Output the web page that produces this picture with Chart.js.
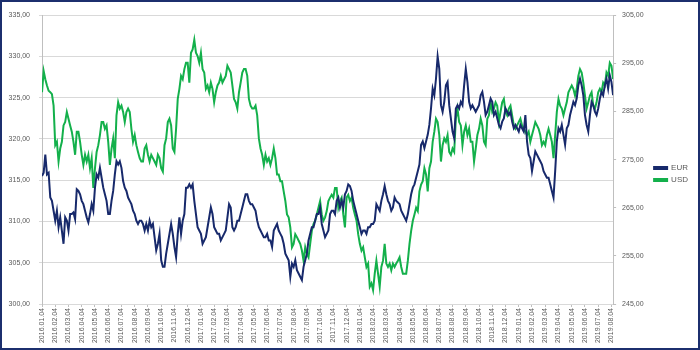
<!DOCTYPE html>
<html>
<head>
<meta charset="utf-8">
<script src="https://cdn.jsdelivr.net/npm/chart.js@4/dist/chart.umd.min.js"></script>
<style>
  body { margin: 0; background: #fff; }
  #frame { width: 700px; height: 350px; box-sizing: border-box; border: 2px solid #1c2f6e; background: #fff; }
  canvas { display: block; }
</style>
</head>
<body>
<div id="frame"><canvas id="chart" width="696" height="346"></canvas></div>
<script>
// monthly tick labels
const monthLabels = [
  "2016.01.04", "2016.02.04", "2016.03.04", "2016.04.04", "2016.05.04", "2016.06.04",
  "2016.07.04", "2016.08.04", "2016.09.04", "2016.10.04", "2016.11.04", "2016.12.04",
  "2017.01.04", "2017.02.04", "2017.03.04", "2017.04.04", "2017.05.04", "2017.06.04",
  "2017.07.04", "2017.08.04", "2017.09.04", "2017.10.04", "2017.11.04", "2017.12.04",
  "2018.01.04", "2018.02.04", "2018.03.04", "2018.04.04", "2018.05.04", "2018.06.04",
  "2018.07.04", "2018.08.04", "2018.09.04", "2018.10.04", "2018.11.04", "2018.12.04",
  "2019.01.04", "2019.02.04", "2019.03.04", "2019.04.04", "2019.05.04", "2019.06.04",
  "2019.07.04", "2019.08.04"
];

const samplesPerMonth = 8;

// EUR (left axis)
const eurValues = [
  315.5, 315.9, 318.1, 315.7, 315.9, 312.9, 312.5, 311.3, 310.1, 311.3,
  309.3, 310.5, 308.9, 307.3, 310.5, 310.1, 308.9, 310.9, 310.9, 311.1,
  310.3, 313.9, 313.7, 313.3, 312.5, 312.1, 311.3, 310.5, 309.9, 310.9,
  312.1, 311.3, 314.1, 315.7, 315.3, 316.5, 315.3, 314.1, 313.3, 312.5,
  310.9, 310.9, 312.5, 313.7, 315.7, 317.3, 316.9, 317.3, 316.5, 314.9,
  314.1, 313.7, 312.9, 312.5, 312.1, 311.3, 310.9, 310.1, 309.7, 310.1,
  310.1, 309.7, 308.9, 309.7, 308.9, 310.1, 309.3, 309.7, 308.1, 306.5,
  307.3, 308.5, 305.3, 304.5, 304.5, 306.1, 307.3, 308.5, 309.7, 308.5,
  306.9, 305.7, 308.5, 310.5, 308.5, 310.1, 310.9, 314.1,
  314.1, 314.5, 314.1, 314.5, 312.5, 310.9, 309.3, 308.9, 308.5, 307.3,
  307.7, 308.1, 309.3, 310.5, 311.7, 310.9, 309.3, 308.9, 308.5, 308.5,
  307.7, 308.1, 308.5, 308.9, 310.5, 312.1, 311.7, 309.3, 308.9, 309.3,
  310.1, 310.1, 310.9, 311.7, 312.5, 313.3, 313.3, 312.5, 312.1, 312.1,
  311.7, 311.3, 310.1, 309.3, 308.9, 308.5, 308.1, 308.1, 308.5, 307.7,
  307.7, 306.9, 308.9, 309.3, 309.7, 308.9, 308.5, 308.1, 307.3, 306.1,
  305.7, 305.3, 303.3, 304.9, 304.5, 305.3, 304.1, 303.7, 303.3, 302.9,
  304.5, 305.3, 306.1, 307.7, 308.5, 309.3, 309.3, 310.1, 310.9, 310.9,
  311.7, 309.7, 308.9, 308.1, 308.5, 308.9, 310.9, 311.3,
  311.3, 310.9, 312.5, 312.9, 311.7, 312.5, 311.7, 313.3, 313.7, 314.5,
  314.3, 313.7, 312.5, 311.7, 310.9, 310.1, 309.3, 308.5, 308.9, 308.9,
  308.5, 309.3, 309.3, 309.7, 309.7, 310.1, 312.1, 311.7, 311.3, 312.5,
  313.3, 314.3, 313.3, 312.5, 312.1, 311.3, 311.7, 312.9, 312.5, 312.3,
  312.1, 311.3, 310.9, 310.5, 310.1, 310.9, 312.1, 313.3, 314.1, 314.5,
  315.3, 316.1, 316.9, 319.3, 319.7, 318.9, 319.7, 320.5, 321.7, 323.7,
  326.1, 325.3, 327.3, 330.0, 328.5, 324.1, 323.3, 324.5, 326.5, 326.9,
  324.1, 322.5, 320.9, 320.1, 323.7, 324.1, 323.7, 324.5, 324.1, 326.5,
  328.5, 326.9, 324.5, 323.7, 324.1, 323.7, 323.3, 323.7,
  324.1, 325.3, 325.7, 324.5, 322.9, 323.3, 324.1, 324.9, 324.5, 322.9,
  323.3, 322.5, 321.7, 321.3, 322.1, 322.5, 323.7, 323.3, 322.9, 323.3,
  322.1, 321.3, 321.7, 321.3, 320.9, 321.7, 321.3, 320.9, 322.9, 319.7,
  318.1, 317.7, 316.1, 317.3, 318.5, 318.1, 317.7, 317.3, 316.9, 316.1,
  315.7, 315.3, 315.3, 314.5, 313.7, 312.9, 316.1, 319.7, 321.3, 320.9,
  321.7, 320.5, 319.3, 321.3, 321.7, 322.9, 323.7, 324.5, 324.1, 324.9,
  326.5, 327.3, 326.5, 325.3, 322.9, 321.7, 320.9, 322.9, 324.5, 324.1,
  323.3, 322.9, 323.7, 324.9, 325.7, 325.3, 326.5, 327.3, 326.1, 327.7,
  326.9, 325.3
];

// USD (right axis)
const usdValues = [
  289.0, 293.4, 291.7, 290.4, 289.3, 289.0, 288.6, 286.2, 278.0, 278.7,
  274.6, 277.3, 278.7, 282.1, 282.8, 284.9, 283.5, 282.1, 280.8, 278.7,
  276.0, 280.8, 280.8, 278.7, 276.0, 273.9, 276.0, 274.6, 276.0, 273.2,
  275.3, 269.1, 273.2, 276.6, 278.0, 280.1, 282.8, 282.8, 281.4, 282.1,
  278.7, 273.9, 277.3, 279.4, 275.3, 284.2, 286.9, 285.6, 286.2, 284.9,
  282.8, 284.9, 285.6, 284.9, 281.4, 278.7, 280.1, 278.0, 276.6, 275.3,
  274.6, 274.6, 277.3, 278.0, 276.0, 274.6, 276.0, 275.3, 274.6, 273.9,
  276.0, 275.3, 273.2, 272.5, 278.0, 279.4, 282.8, 283.5, 282.1, 277.3,
  276.6, 281.4, 287.6, 289.7, 292.4, 291.7, 293.8, 295.1,
  295.1, 291.0, 297.2, 297.9, 299.9, 297.2, 296.5, 295.1, 297.2, 293.8,
  293.1, 289.7, 290.4, 289.0, 291.0, 289.7, 286.9, 289.0, 290.4, 291.0,
  292.4, 291.0, 291.7, 292.4, 294.5, 293.8, 293.1, 290.4, 287.6, 286.9,
  285.6, 289.0, 291.0, 293.1, 293.8, 293.8, 292.4, 287.6, 286.2, 285.6,
  285.6, 286.2, 284.2, 279.4, 277.3, 276.0, 273.9, 276.0, 274.6, 275.3,
  273.9, 275.3, 277.3, 275.3, 271.9, 271.9, 270.5, 270.5, 268.4, 266.4,
  263.6, 263.0, 260.9, 256.8, 257.5, 259.5, 258.9, 258.2, 257.5, 256.1,
  254.0, 256.8, 255.4, 254.7, 257.5, 260.2, 261.6, 262.3, 263.6, 265.0,
  266.4, 263.6, 262.3, 263.0, 264.3, 266.4, 267.1, 267.7,
  267.1, 269.1, 269.1, 265.0, 266.4, 267.1, 263.6, 260.9, 267.1, 267.7,
  266.4, 267.1, 265.0, 263.6, 262.3, 259.5, 257.5, 256.1, 256.8, 254.7,
  252.7, 253.4, 248.6, 249.3, 247.9, 251.3, 254.0, 251.3, 248.6, 252.7,
  254.0, 257.5, 253.4, 252.7, 253.4, 252.0, 253.4, 252.7, 253.4, 254.0,
  254.7, 252.7, 251.3, 251.3, 251.3, 254.0, 257.5, 260.2, 262.3, 263.6,
  265.0, 264.3, 268.4, 269.8, 270.5, 273.2, 271.9, 268.4, 273.2, 274.6,
  278.7, 280.8, 283.5, 282.8, 280.1, 274.6, 278.0, 279.4, 278.7, 280.1,
  276.6, 276.0, 277.3, 276.6, 283.5, 285.6, 282.8, 282.1, 278.0, 280.8,
  282.1, 280.1, 281.4, 278.7, 278.7, 274.6, 277.3, 280.1,
  281.4, 283.5, 282.1, 278.7, 278.0, 283.5, 284.2, 286.9, 284.9, 285.6,
  286.9, 286.2, 282.8, 284.9, 286.9, 287.6, 284.9, 284.2, 285.6, 286.2,
  284.2, 282.1, 281.4, 282.1, 282.8, 283.5, 282.1, 281.4, 280.8, 280.1,
  280.8, 278.7, 280.1, 281.4, 282.8, 282.1, 281.4, 280.1, 278.0, 278.7,
  278.0, 280.1, 281.4, 280.1, 278.7, 275.3, 280.1, 284.9, 287.6, 286.2,
  285.6, 284.2, 285.6, 286.9, 289.0, 289.7, 290.4, 289.7, 288.3, 289.7,
  292.4, 293.8, 293.1, 291.0, 288.3, 285.6, 286.9, 288.3, 289.0, 286.2,
  285.6, 286.9, 289.0, 289.7, 289.0, 291.0, 290.4, 293.1, 292.4, 295.1,
  294.5, 291.7
];

const toPoints = (values) => values.map((v, i) => ({ x: i / samplesPerMonth, y: v }));
const commaFmt = (v) => v.toFixed(2).replace('.', ',');

const tickFont = { family: "'Liberation Sans', Arial, sans-serif", size: 7 };
const tickColor = '#595959';

const ctx = document.getElementById('chart').getContext('2d');
window.myChart = new Chart(ctx, {
  type: 'line',
  data: {
    datasets: [
      {
        label: 'EUR',
        data: toPoints(eurValues),
        yAxisID: 'y',
        borderColor: '#17296b',
        backgroundColor: '#17296b',
        borderWidth: 2,
        pointRadius: 0,
        tension: 0,
        fill: false,
      },
      {
        label: 'USD',
        data: toPoints(usdValues),
        yAxisID: 'y1',
        borderColor: '#13b04b',
        backgroundColor: '#13b04b',
        borderWidth: 2,
        pointRadius: 0,
        tension: 0,
        fill: false,
      },
    ],
  },
  options: {
    responsive: false,
    animation: false,
    layout: { padding: { top: -2, left: 0, right: 0, bottom: 0 } },
    plugins: {
      tooltip: { enabled: false },
      legend: {
        position: 'right',
        labels: {
          color: tickColor,
          font: { family: "'Liberation Sans', Arial, sans-serif", size: 8 },
          boxWidth: 13,
          boxHeight: 2,
          padding: 4,
        },
      },
    },
    scales: {
      x: {
        type: 'linear',
        min: 0,
        max: (eurValues.length - 1) / samplesPerMonth,
        afterBuildTicks: (scale) => {
          scale.ticks = monthLabels.map((l, i) => ({ value: i }));
        },
        afterFit: (scale) => { scale.height = 44; },
        ticks: {
          autoSkip: false,
          minRotation: 90,
          maxRotation: 90,
          padding: 1,
          color: tickColor,
          font: tickFont,
          callback: (v) => monthLabels[v],
        },
        grid: { drawOnChartArea: false, tickLength: 3, color: '#bfbfbf' },
        border: { color: '#d9d9d9' },
      },
      y: {
        position: 'left',
        min: 300,
        max: 335,
        afterFit: (scale) => { scale.width = 40; },
        ticks: { stepSize: 5, padding: 9, color: tickColor, font: tickFont, callback: commaFmt },
        grid: { color: '#d9d9d9', tickLength: 3 },
        border: { color: '#bfbfbf' },
      },
      y1: {
        position: 'right',
        min: 245,
        max: 305,
        afterFit: (scale) => { scale.width = 37; },
        ticks: { stepSize: 10, padding: 6, color: tickColor, font: tickFont, callback: commaFmt },
        grid: { drawOnChartArea: false, tickLength: 3, color: '#bfbfbf' },
        border: { color: '#bfbfbf' },
      },
    },
  },
});
</script>
</body>
</html>
